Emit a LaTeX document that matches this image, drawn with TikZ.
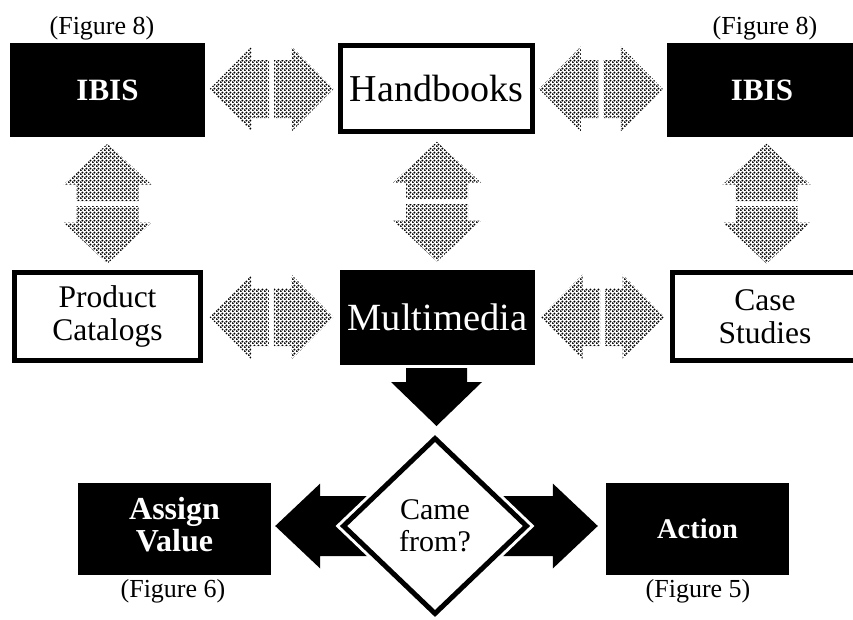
\documentclass[tikz,border=0pt]{standalone}
\usepackage{fontspec}
\setmainfont{Liberation Serif}
\usetikzlibrary{shapes.geometric,calc,patterns.meta}
\tikzdeclarepattern{
  name=halftone,
  type=uncolored,
  bottom left={(0pt,0pt)},
  top right={(4pt,4pt)},
  tile size={(4pt,4pt)},
  code={
    \fill (1pt,1pt) circle (1.35pt);
    \fill (3pt,3pt) circle (1.35pt);
  }
}
\tikzset{
  blackbox/.style={fill=black, draw=none, text=white, inner sep=0pt, align=center},
  whitebox/.style={fill=white, draw=black, line width=5pt, inner sep=0pt, align=center},
  grayarrow/.style={pattern={halftone}, pattern color=black},
  figlabel/.style={inner sep=0pt, font=\fontsize{26}{28}\selectfont},
  hdbl/.pic={
    \path[grayarrow] (-62,0) -- (-20,-42.5) -- (-20,-29) -- (-2.5,-29) -- (-2.5,29) -- (-20,29) -- (-20,42.5) -- cycle;
    \path[grayarrow] (62,0) -- (20,-42.5) -- (20,-29) -- (2.5,-29) -- (2.5,29) -- (20,29) -- (20,42.5) -- cycle;
  },
  vdbl/.pic={
    \path[grayarrow] (0,-60) -- (-44,-19) -- (-31,-19) -- (-31,-2.5) -- (31,-2.5) -- (31,-19) -- (44,-19) -- cycle;
    \path[grayarrow] (0,60) -- (-44,19) -- (-31,19) -- (-31,2.5) -- (31,2.5) -- (31,19) -- (44,19) -- cycle;
  }
}
\begin{document}
\begin{tikzpicture}[x=1pt, y=-1pt]
\useasboundingbox (0,0) rectangle (853,619);
\clip (0,0) rectangle (853,619);

% boxes
\node[blackbox, minimum width=195pt, minimum height=94pt, font=\fontsize{31}{33}\selectfont\bfseries] (ibisL) at (107.5,90) {IBIS};
\node[whitebox, minimum width=192pt, minimum height=86pt, font=\fontsize{38}{40}\selectfont] (hand) at (436.5,88) {Handbooks};
\node[blackbox, minimum width=190pt, minimum height=94pt, font=\fontsize{31}{33}\selectfont\bfseries] (ibisR) at (762,90) {IBIS};

\node[whitebox, minimum width=186pt, minimum height=88pt, font=\fontsize{31.5}{33}\selectfont] (prod) at (107.5,316.5) {Product\\Catalogs};
\node[blackbox, minimum width=195pt, minimum height=95pt, font=\fontsize{38.5}{40}\selectfont] (mm) at (437.5,317.5) {Multimedia};
\node[whitebox, minimum width=185pt, minimum height=88pt, font=\fontsize{31.5}{33}\selectfont] (case) at (765,316.5) {Case\\Studies};

\node[blackbox, minimum width=193pt, minimum height=92pt, font=\fontsize{32}{31}\selectfont\bfseries] (assign) at (174.5,529) {\raisebox{3pt}{\begin{tabular}{@{}c@{}}Assign\\Value\end{tabular}}};
\node[blackbox, minimum width=183pt, minimum height=92pt, font=\fontsize{28.5}{30}\selectfont\bfseries] (action) at (697.5,529) {Action};

% labels
\node[figlabel] (f8l) at (102,28) {(Figure 8)};
\node[figlabel] (f8r) at (765,28) {(Figure 8)};
\node[figlabel] (f6) at (173,591) {(Figure 6)};
\node[figlabel] (f5) at (698,591) {(Figure 5)};

% gray double arrows
\pic at ($(ibisL.east)!.5!(hand.west)$) {hdbl};
\pic at ($(hand.east)!.5!(ibisR.west)$) {hdbl};
\pic at ($(prod.east)!.5!(mm.west)$) {hdbl};
\pic at ($(mm.east)!.5!(case.west)$) {hdbl};
\pic at ($(ibisL.south)!.5!(prod.north)$) {vdbl};
\pic at ($(hand.south)!.5!(mm.north)$) {vdbl};
\pic at ($(ibisR.south)!.5!(case.north)+(3,0)$) {vdbl};

% decision diamond position
\coordinate (cc) at (435,526);

% black arrows
\coordinate (ltip) at ($(assign.east |- cc)+(4,0)$);
\fill (ltip) -- ($(ltip)+(45,-42.5)$) -- ($(ltip)+(45,-30)$) -- ($(cc)+(0,-30)$) -- ($(cc)+(0,30)$) -- ($(ltip)+(45,30)$) -- ($(ltip)+(45,42.5)$) -- cycle;
\coordinate (rtip) at ($(action.west |- cc)+(-8,0)$);
\fill (rtip) -- ($(rtip)+(-45,-42.5)$) -- ($(rtip)+(-45,-30)$) -- ($(cc)+(0,-30)$) -- ($(cc)+(0,30)$) -- ($(rtip)+(-45,30)$) -- ($(rtip)+(-45,42.5)$) -- cycle;

\node[diamond, draw=black, line width=5pt, fill=white, minimum width=185pt, minimum height=177pt, inner sep=0pt, align=center, font=\fontsize{30}{32}\selectfont, preaction={draw=white, line width=11pt}] (came) at (cc) {Came\\from?};

\coordinate (dtop) at ($(mm.south)+(-1,3)$);
\coordinate (dtip) at ($(dtop |- came.north)+(0,-9)$);
\fill ($(dtop)+(-30.5,0)$) -- ($(dtop)+(30.5,0)$) -- ($(dtip)+(30.5,-44)$) -- ($(dtip)+(45.5,-44)$) -- (dtip) -- ($(dtip)+(-45.5,-44)$) -- ($(dtip)+(-30.5,-44)$) -- cycle;
\end{tikzpicture}
\end{document}
